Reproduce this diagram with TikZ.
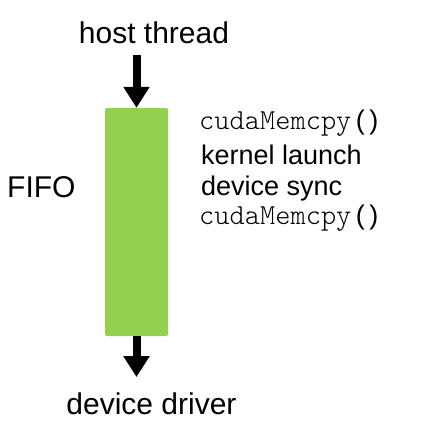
\documentclass[tikz,border=0pt]{standalone}
\usepackage{fontspec}
\setmainfont{Liberation Sans}
\setmonofont{Latin Modern Mono Light}
\usetikzlibrary{arrows.meta}
\definecolor{fifogreen}{RGB}{146,208,80}

\begin{document}
\begin{tikzpicture}[x=1pt,y=-1pt,
  fifobox/.style={fill=fifogreen, rounded corners=2pt, minimum width=63pt, minimum height=228pt, inner sep=0pt},
  big/.style={inner sep=0pt, font=\fontsize{30}{36}\selectfont},
  cmd/.style={inner sep=0pt, anchor=base west, font=\fontsize{27}{32}\selectfont},
  flow/.style={line width=8pt, -{Triangle[width=25pt,length=21pt]}}]
\useasboundingbox (0,0) rectangle (422,436);
\node[fifobox] (fifo) at (136.5,222) {};
\node[big, anchor=base] (host) at (154,44) {host thread};
\node[big, anchor=base] (driver) at (151.5,414) {device driver};
\node[big, anchor=base west] (label) at (7,197) {FIFO};
\node[cmd] (copyin) at (199,129) {{\fontsize{29}{34}\ttfamily cudaMemcpy}\,(\,)};
\node[cmd] (launch) at (201,164) {kernel launch};
\node[cmd] (sync) at (201,195) {device sync};
\node[cmd] (copyout) at (199,224) {{\fontsize{29}{34}\ttfamily cudaMemcpy}\,(\,)};
\draw[flow, shorten <=11pt] (fifo.north |- host.south) -- (fifo.north);
\draw[flow, shorten >=15pt] (fifo.south) -- (fifo.south |- driver.north);
\end{tikzpicture}
\end{document}
